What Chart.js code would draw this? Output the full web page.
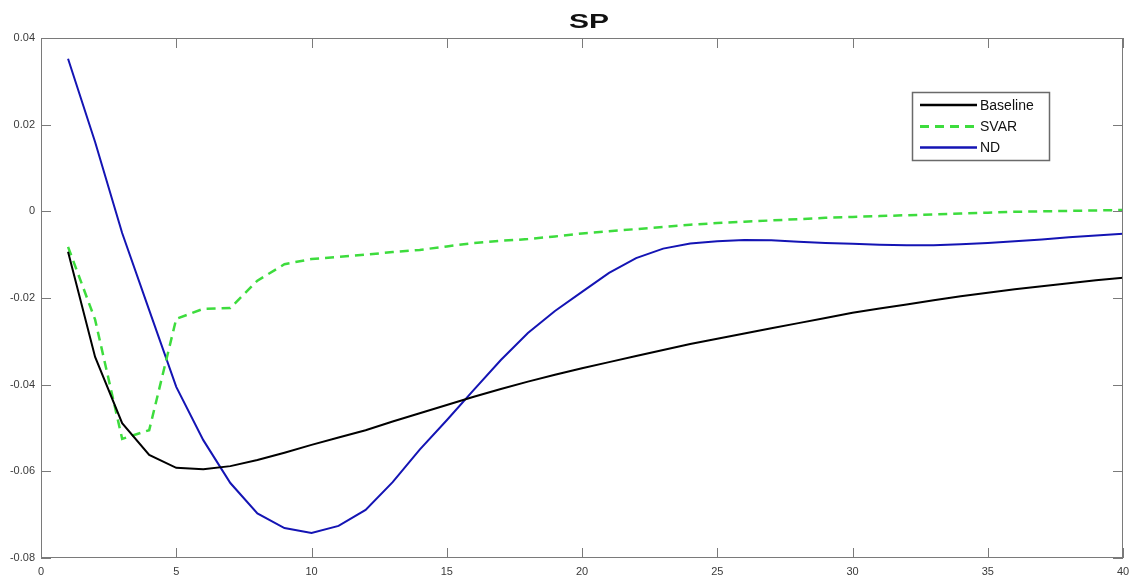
<!DOCTYPE html>
<html>
<head>
<meta charset="utf-8">
<script src="https://cdn.jsdelivr.net/npm/chart.js@4"></script>
<style>
  html, body { margin: 0; padding: 0; background: #fff; }
  #wrap { width: 1129px; height: 576px; position: relative; }
</style>
</head>
<body>
<div id="wrap"><canvas id="spChart"></canvas></div>
<script>
// horizon (periods)
const horizon = [1,2,3,4,5,6,7,8,9,10,11,12,13,14,15,16,17,18,19,20,
                 21,22,23,24,25,26,27,28,29,30,31,32,33,34,35,36,37,38,39,40];

const baseline = [-0.0093,-0.0336,-0.0489,-0.0562,-0.0592,-0.0595,-0.0588,-0.0574,-0.0557,-0.0539,
                  -0.0522,-0.0505,-0.0485,-0.0466,-0.0447,-0.0428,-0.0410,-0.0393,-0.0377,-0.0362,
                  -0.0348,-0.0334,-0.0320,-0.0306,-0.0294,-0.0282,-0.0270,-0.0258,-0.0246,-0.0234,
                  -0.0224,-0.0215,-0.0205,-0.0196,-0.0188,-0.0180,-0.0173,-0.0166,-0.0159,-0.0153];

const svar = [-0.0082,-0.0250,-0.0525,-0.0505,-0.0248,-0.0225,-0.0223,-0.0160,-0.0122,-0.0110,
              -0.0105,-0.0100,-0.0094,-0.0089,-0.0081,-0.0073,-0.0068,-0.0064,-0.0058,-0.0051,
              -0.0046,-0.0041,-0.0036,-0.0031,-0.0027,-0.0024,-0.0021,-0.0018,-0.0015,-0.0013,
              -0.0011,-0.0009,-0.0007,-0.0005,-0.0003,-0.0001,0.0000,0.0001,0.0002,0.0003];

const nd = [0.0352,0.0160,-0.0050,-0.0228,-0.0405,-0.0528,-0.0627,-0.0697,-0.0731,-0.0742,
            -0.0726,-0.0689,-0.0625,-0.0550,-0.0482,-0.0412,-0.0343,-0.0281,-0.0230,-0.0186,
            -0.0142,-0.0108,-0.0086,-0.0074,-0.0069,-0.0066,-0.0067,-0.0070,-0.0073,-0.0075,
            -0.0077,-0.0078,-0.0078,-0.0076,-0.0073,-0.0069,-0.0065,-0.0060,-0.0056,-0.0052];

const xTicks = [0,5,10,15,20,25,30,35,40];
const yTicks = [-0.08,-0.06,-0.04,-0.02,0,0.02,0.04];
const chartTitle = 'SP';

const axisColor = '#7a7a7a';
const labelColor = '#3a3a3a';

function toPoints(ys) {
  return horizon.map((x, i) => ({ x: x, y: ys[i] }));
}

// MATLAB style box, inward ticks, title and legend
const matlabDecor = {
  id: 'matlabDecor',
  afterDraw(chart) {
    const ctx = chart.ctx;
    const a = chart.chartArea;
    const xs = chart.scales.x, ys = chart.scales.y;
    ctx.save();
    ctx.strokeStyle = axisColor;
    ctx.lineWidth = 1;
    ctx.strokeRect(a.left + 0.5, a.top + 0.5, a.right - a.left - 1, a.bottom - a.top - 1);
    ctx.beginPath();
    xTicks.forEach(v => {
      const px = Math.round(xs.getPixelForValue(v)) + 0.5;
      ctx.moveTo(px, a.bottom); ctx.lineTo(px, a.bottom - 10);
      ctx.moveTo(px, a.top); ctx.lineTo(px, a.top + 10);
    });
    yTicks.forEach(v => {
      const py = Math.round(ys.getPixelForValue(v)) + 0.5;
      ctx.moveTo(a.left, py); ctx.lineTo(a.left + 10, py);
      ctx.moveTo(a.right, py); ctx.lineTo(a.right - 10, py);
    });
    ctx.stroke();

    // title
    ctx.fillStyle = '#111';
    ctx.font = 'bold 20px "Liberation Sans", Arial, sans-serif';
    ctx.textAlign = 'center';
    ctx.textBaseline = 'alphabetic';
    ctx.translate(589, 28);
    ctx.scale(1.5, 1);
    ctx.fillText(chartTitle, 0, 0);
    ctx.restore();

    // legend box
    ctx.save();
    const bx = 912, by = 92, bw = 137, bh = 68;
    ctx.fillStyle = '#fff';
    ctx.fillRect(bx, by, bw, bh);
    ctx.strokeStyle = '#6a6a6a';
    ctx.lineWidth = 1.5;
    ctx.strokeRect(bx + 0.5, by + 0.5, bw, bh);
    ctx.font = '14px "Liberation Sans", Arial, sans-serif';
    ctx.textAlign = 'left';
    ctx.textBaseline = 'middle';
    const rows = [105, 126.5, 147.5];
    chart.data.datasets.forEach((ds, i) => {
      ctx.beginPath();
      ctx.strokeStyle = ds.borderColor;
      ctx.lineWidth = ds.borderWidth + 0.5;
      ctx.setLineDash(ds.borderDash || []);
      ctx.moveTo(920, rows[i]);
      ctx.lineTo(977, rows[i]);
      ctx.stroke();
      ctx.setLineDash([]);
      ctx.fillStyle = '#111';
      ctx.fillText(ds.label, 980, rows[i] + 1);
    });
    ctx.restore();
  }
};

new Chart(document.getElementById('spChart'), {
  type: 'line',
  data: {
    datasets: [
      { label: 'Baseline', data: toPoints(baseline), borderColor: '#000000', borderWidth: 2 },
      { label: 'SVAR', data: toPoints(svar), borderColor: '#3ddc3d', borderWidth: 2.5, borderDash: [9, 6] },
      { label: 'ND', data: toPoints(nd), borderColor: '#1414b4', borderWidth: 2 }
    ]
  },
  options: {
    responsive: true,
    maintainAspectRatio: false,
    animation: false,
    layout: { padding: { top: 38, right: 6, left: 0, bottom: 0 } },
    elements: { point: { radius: 0 }, line: { tension: 0 } },
    plugins: { legend: { display: false }, title: { display: false }, tooltip: { enabled: false } },
    scales: {
      x: {
        type: 'linear',
        min: 0, max: 40,
        afterBuildTicks: s => { s.ticks = xTicks.map(v => ({ value: v })); },
        afterFit: s => { s.height = 18; s.paddingLeft = 0; s.paddingRight = 0; },
        grid: { display: false, drawTicks: false },
        border: { display: false },
        ticks: {
          padding: 7,
          color: labelColor,
          font: { size: 11, family: '"Liberation Sans", Arial, sans-serif' },
          maxRotation: 0
        }
      },
      y: {
        type: 'linear',
        min: -0.08, max: 0.04,
        afterBuildTicks: s => { s.ticks = yTicks.map(v => ({ value: v })); },
        afterFit: s => { s.width = 41; s.paddingTop = 0; s.paddingBottom = 0; },
        grid: { display: false, drawTicks: false },
        border: { display: false },
        ticks: {
          padding: 6,
          color: labelColor,
          font: { size: 11, family: '"Liberation Sans", Arial, sans-serif' },
          callback: v => (Math.abs(v) < 1e-9 ? '0' : v.toFixed(2))
        }
      }
    }
  },
  plugins: [matlabDecor]
});
</script>
</body>
</html>
